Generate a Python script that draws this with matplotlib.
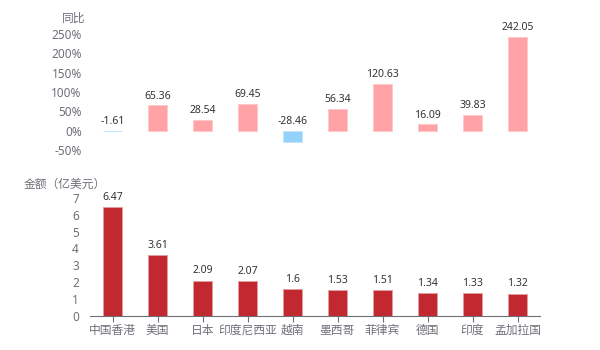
import numpy as np
import matplotlib
matplotlib.use('Agg')
import matplotlib.pyplot as plt

plt.rcParams['font.family'] = ['Noto Sans', 'Noto Sans CJK SC', 'DejaVu Sans']

# ── data ───────────────────────────────────────────────────────────
countries = ['中国香港', '美国', '日本', '印度尼西亚', '越南',
             '墨西哥', '菲律宾', '德国', '印度', '孟加拉国']
amount = [6.47, 3.61, 2.09, 2.07, 1.6, 1.53, 1.51, 1.34, 1.33, 1.32]
yoy = [-1.61, 65.36, 28.54, 69.45, -28.46, 56.34, 120.63, 16.09, 39.83, 242.05]
yoy_ticks = [-50, 0, 50, 100, 150, 200, 250]
amount_ticks = [0, 1, 2, 3, 4, 5, 6, 7]

PINK, BLUE, RED = '#FFA3A6', '#93D2FB', '#C1282F'
PINK_E, BLUE_E, RED_E = '#FFC9CB', '#C2E6FD', '#E39CA0'
TICK_C, LABEL_C = '#6E7079', '#333333'

fig = plt.figure(figsize=(6, 3.5), dpi=100)
x = np.arange(len(countries))
bw = 0.44

# ── top: year-over-year ────────────────────────────────────────────
ax1 = fig.add_axes([0.15, 0.5714, 0.75, 0.3315])
cols = [PINK if v >= 0 else BLUE for v in yoy]
edges = [PINK_E if v >= 0 else BLUE_E for v in yoy]
ax1.bar(x, yoy, width=bw, color=cols, edgecolor=edges, linewidth=0.7)
for xi, v in zip(x, yoy):
    ax1.text(xi, max(v, 0) + 10, f'{v:g}', ha='center', va='bottom',
             fontsize=7.5, color=LABEL_C)
ax1.set_xlim(-0.5, len(countries) - 0.5)
ax1.set_ylim(-50, 250)
ax1.set_yticks(yoy_ticks)
ax1.set_yticklabels([f'{t}%' for t in yoy_ticks])
ax1.set_xticks([])
ax1.tick_params(axis='y', length=0, labelsize=8.5, labelcolor=TICK_C, pad=6)
for s in ax1.spines.values():
    s.set_visible(False)
ax1.text(-0.01, 1.08, '同比', transform=ax1.transAxes, ha='right',
         va='bottom', fontsize=8.5, color=TICK_C)

# ── bottom: amount ─────────────────────────────────────────────────
ax2 = fig.add_axes([0.15, 0.098, 0.75, 0.3363])
ax2.bar(x, amount, width=bw, color=RED, edgecolor=RED_E, linewidth=0.7)
for xi, v in zip(x, amount):
    ax2.text(xi, v + 0.25, f'{v:g}', ha='center', va='bottom',
             fontsize=7.5, color=LABEL_C)
ax2.set_xlim(-0.5, len(countries) - 0.5)
ax2.set_ylim(0, 7)
ax2.set_yticks(amount_ticks)
ax2.set_xticks(x)
ax2.set_xticklabels(countries)
ax2.tick_params(axis='y', length=0, labelsize=8.5, labelcolor=TICK_C, pad=8)
ax2.tick_params(axis='x', length=4, color=TICK_C, labelsize=8.5,
                labelcolor=TICK_C, pad=2)
for k in ['top', 'right', 'left']:
    ax2.spines[k].set_visible(False)
ax2.spines['bottom'].set_color(TICK_C)
ax2.text(0.035, 1.06, '金额（亿美元）', transform=ax2.transAxes, ha='right',
         va='bottom', fontsize=8.5, color=TICK_C)

fig.savefig('out.png', dpi=100)
